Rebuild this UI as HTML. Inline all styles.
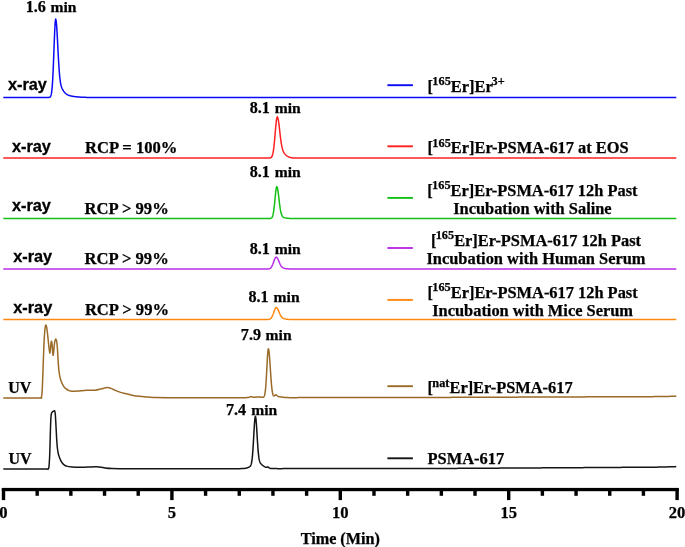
<!DOCTYPE html>
<html><head><meta charset="utf-8"><style>
html,body{margin:0;padding:0;background:#fff;}
body{width:685px;height:547px;overflow:hidden;}
svg{display:block;will-change:transform;}
.s{font-family:"Liberation Serif",serif;font-weight:bold;font-size:16.6px;fill:#000;stroke:#000;stroke-width:0.25px;}
.a{font-family:"Liberation Sans",sans-serif;font-weight:bold;font-size:16.6px;fill:#000;stroke:#000;stroke-width:0.3px;}
.p{font-size:16.1px;}
.l{font-size:16.4px;}
.m{font-size:15.6px;}
.a{font-size:16.3px;}
.sup{font-size:12.3px;}
</style></head><body>
<svg width="685" height="547" viewBox="0 0 685 547">
<path d="M3.30 97.50L5.30 97.50L7.30 97.50L9.30 97.50L11.30 97.50L13.30 97.50L15.30 97.50L17.30 97.50L19.30 97.50L21.30 97.50L23.30 97.50L25.30 97.50L25.70 97.50L26.20 97.50L26.70 97.50L27.20 97.50L27.30 97.50L27.70 97.50L28.20 97.50L28.70 97.50L29.20 97.50L29.30 97.50L29.70 97.50L30.20 97.50L30.70 97.50L31.20 97.50L31.30 97.50L31.70 97.50L32.20 97.50L32.70 97.50L33.20 97.50L33.30 97.50L33.70 97.50L34.20 97.50L34.70 97.50L35.20 97.50L35.30 97.50L35.70 97.50L36.20 97.50L36.70 97.50L37.20 97.50L37.30 97.50L37.70 97.50L38.20 97.50L38.70 97.50L39.20 97.50L39.30 97.50L39.70 97.50L40.20 97.50L40.70 97.50L41.20 97.50L41.30 97.50L41.70 97.50L42.20 97.50L42.70 97.50L43.20 97.50L43.30 97.50L43.70 97.50L44.20 97.50L44.70 97.50L45.20 97.50L45.30 97.50L45.70 97.50L46.20 97.50L46.70 97.50L47.20 97.50L47.30 97.50L47.70 97.50L48.20 97.49L48.70 97.47L49.20 97.42L49.30 97.40L49.70 97.28L50.20 96.94L50.70 96.18L51.20 94.63L51.30 94.18L51.70 91.75L52.20 86.89L52.70 79.46L53.20 69.24L53.30 66.89L53.70 56.70L54.20 43.20L54.70 30.91L55.20 22.24L55.30 21.12L55.70 19.10L56.20 21.07L56.70 26.65L57.20 34.90L57.30 36.75L57.70 44.54L58.20 54.31L58.70 63.22L59.20 70.67L59.30 71.96L59.70 76.47L60.20 80.76L60.70 83.82L61.20 85.99L61.30 86.34L61.70 87.56L62.20 88.75L62.70 89.72L63.20 90.54L63.30 90.69L63.70 91.26L64.20 91.91L64.70 92.49L65.20 93.01L65.30 93.11L65.70 93.48L66.20 93.89L66.70 94.25L67.20 94.57L67.30 94.63L67.70 94.85L68.20 95.09L68.70 95.30L69.20 95.49L69.30 95.52L69.70 95.65L70.20 95.79L70.70 95.92L71.20 96.03L71.30 96.05L71.70 96.13L72.20 96.22L72.70 96.31L73.20 96.39L73.30 96.40L73.70 96.46L74.20 96.53L74.70 96.59L75.20 96.66L75.30 96.67L75.70 96.71L76.20 96.77L76.70 96.82L77.20 96.87L77.30 96.88L77.70 96.92L78.20 96.96L78.70 97.00L79.20 97.04L79.30 97.05L79.70 97.08L80.20 97.11L80.70 97.14L81.20 97.17L81.30 97.18L81.70 97.20L82.20 97.23L82.70 97.25L83.20 97.27L83.30 97.28L83.70 97.29L84.20 97.31L84.70 97.33L85.20 97.35L85.30 97.35L85.70 97.36L86.20 97.38L86.70 97.39L87.20 97.40L87.30 97.40L87.70 97.41L88.20 97.42L88.70 97.43L89.20 97.44L89.30 97.44L89.70 97.44L90.20 97.45L90.70 97.46L91.20 97.46L91.30 97.46L91.70 97.47L92.20 97.47L92.70 97.47L93.20 97.48L93.30 97.48L93.70 97.48L94.20 97.48L94.70 97.48L95.20 97.49L95.30 97.49L95.70 97.49L97.30 97.49L99.30 97.50L101.30 97.50L103.30 97.50L105.30 97.50L107.30 97.50L109.30 97.50L111.30 97.50L113.30 97.50L115.30 97.50L117.30 97.50L119.30 97.50L121.30 97.50L123.30 97.50L125.30 97.50L127.30 97.50L129.30 97.50L131.30 97.50L133.30 97.50L135.30 97.50L137.30 97.50L139.30 97.50L141.30 97.50L143.30 97.50L145.30 97.50L147.30 97.50L149.30 97.50L151.30 97.50L153.30 97.50L155.30 97.50L157.30 97.50L159.30 97.50L161.30 97.50L163.30 97.50L165.30 97.50L167.30 97.50L169.30 97.50L171.30 97.50L173.30 97.50L175.30 97.50L177.30 97.50L179.30 97.50L181.30 97.50L183.30 97.50L185.30 97.50L187.30 97.50L189.30 97.50L191.30 97.50L193.30 97.50L195.30 97.50L197.30 97.50L199.30 97.50L201.30 97.50L203.30 97.50L205.30 97.50L207.30 97.50L209.30 97.50L211.30 97.50L213.30 97.50L215.30 97.50L217.30 97.50L219.30 97.50L221.30 97.50L223.30 97.50L225.30 97.50L227.30 97.50L229.30 97.50L231.30 97.50L233.30 97.50L235.30 97.50L237.30 97.50L239.30 97.50L241.30 97.50L243.30 97.50L245.30 97.50L247.30 97.50L249.30 97.50L251.30 97.50L253.30 97.50L255.30 97.50L257.30 97.50L259.30 97.50L261.30 97.50L263.30 97.50L265.30 97.50L267.30 97.50L269.30 97.50L271.30 97.50L273.30 97.50L275.30 97.50L277.30 97.50L279.30 97.50L281.30 97.50L283.30 97.50L285.30 97.50L287.30 97.50L289.30 97.50L291.30 97.50L293.30 97.50L295.30 97.50L297.30 97.50L299.30 97.50L301.30 97.50L303.30 97.50L305.30 97.50L307.30 97.50L309.30 97.50L311.30 97.50L313.30 97.50L315.30 97.50L317.30 97.50L319.30 97.50L321.30 97.50L323.30 97.50L325.30 97.50L327.30 97.50L329.30 97.50L331.30 97.50L333.30 97.50L335.30 97.50L337.30 97.50L339.30 97.50L341.30 97.50L343.30 97.50L345.30 97.50L347.30 97.50L349.30 97.50L351.30 97.50L353.30 97.50L355.30 97.50L357.30 97.50L359.30 97.50L361.30 97.50L363.30 97.50L365.30 97.50L367.30 97.50L369.30 97.50L371.30 97.50L373.30 97.50L375.30 97.50L377.30 97.50L379.30 97.50L381.30 97.50L383.30 97.50L385.30 97.50L387.30 97.50L389.30 97.50L391.30 97.50L393.30 97.50L395.30 97.50L397.30 97.50L399.30 97.50L401.30 97.50L403.30 97.50L405.30 97.50L407.30 97.50L409.30 97.50L411.30 97.50L413.30 97.50L415.30 97.50L417.30 97.50L419.30 97.50L421.30 97.50L423.30 97.50L425.30 97.50L427.30 97.50L429.30 97.50L431.30 97.50L433.30 97.50L435.30 97.50L437.30 97.50L439.30 97.50L441.30 97.50L443.30 97.50L445.30 97.50L447.30 97.50L449.30 97.50L451.30 97.50L453.30 97.50L455.30 97.50L457.30 97.50L459.30 97.50L461.30 97.50L463.30 97.50L465.30 97.50L467.30 97.50L469.30 97.50L471.30 97.50L473.30 97.50L475.30 97.50L477.30 97.50L479.30 97.50L481.30 97.50L483.30 97.50L485.30 97.50L487.30 97.50L489.30 97.50L491.30 97.50L493.30 97.50L495.30 97.50L497.30 97.50L499.30 97.50L501.30 97.50L503.30 97.50L505.30 97.50L507.30 97.50L509.30 97.50L511.30 97.50L513.30 97.50L515.30 97.50L517.30 97.50L519.30 97.50L521.30 97.50L523.30 97.50L525.30 97.50L527.30 97.50L529.30 97.50L531.30 97.50L533.30 97.50L535.30 97.50L537.30 97.50L539.30 97.50L541.30 97.50L543.30 97.50L545.30 97.50L547.30 97.50L549.30 97.50L551.30 97.50L553.30 97.50L555.30 97.50L557.30 97.50L559.30 97.50L561.30 97.50L563.30 97.50L565.30 97.50L567.30 97.50L569.30 97.50L571.30 97.50L573.30 97.50L575.30 97.50L577.30 97.50L579.30 97.50L581.30 97.50L583.30 97.50L585.30 97.50L587.30 97.50L589.30 97.50L591.30 97.50L593.30 97.50L595.30 97.50L597.30 97.50L599.30 97.50L601.30 97.50L603.30 97.50L605.30 97.50L607.30 97.50L609.30 97.50L611.30 97.50L613.30 97.50L615.30 97.50L617.30 97.50L619.30 97.50L621.30 97.50L623.30 97.50L625.30 97.50L627.30 97.50L629.30 97.50L631.30 97.50L633.30 97.50L635.30 97.50L637.30 97.50L639.30 97.50L641.30 97.50L643.30 97.50L645.30 97.50L647.30 97.50L649.30 97.50L651.30 97.50L653.30 97.50L655.30 97.50L657.30 97.50L659.30 97.50L661.30 97.50L663.30 97.50L665.30 97.50L667.30 97.50L669.30 97.50L671.30 97.50L673.30 97.50L675.30 97.50L676.30 97.50" fill="none" stroke="#0a0af5" stroke-width="1.50" stroke-linejoin="round" stroke-linecap="butt"/>
<path d="M3.30 158.10L5.30 158.10L7.30 158.10L9.30 158.10L11.30 158.10L13.30 158.10L15.30 158.10L17.30 158.10L19.30 158.10L21.30 158.10L23.30 158.10L25.30 158.10L27.30 158.10L29.30 158.10L31.30 158.10L33.30 158.10L35.30 158.10L37.30 158.10L39.30 158.10L41.30 158.10L43.30 158.10L45.30 158.10L47.30 158.10L49.30 158.10L51.30 158.10L53.30 158.10L55.30 158.10L57.30 158.10L59.30 158.10L61.30 158.10L63.30 158.10L65.30 158.10L67.30 158.10L69.30 158.10L71.30 158.10L73.30 158.10L75.30 158.10L77.30 158.10L79.30 158.10L81.30 158.10L83.30 158.10L85.30 158.10L87.30 158.10L89.30 158.10L91.30 158.10L93.30 158.10L95.30 158.10L97.30 158.10L99.30 158.10L101.30 158.10L103.30 158.10L105.30 158.10L107.30 158.10L109.30 158.10L111.30 158.10L113.30 158.10L115.30 158.10L117.30 158.10L119.30 158.10L121.30 158.10L123.30 158.10L125.30 158.10L127.30 158.10L129.30 158.10L131.30 158.10L133.30 158.10L135.30 158.10L137.30 158.10L139.30 158.10L141.30 158.10L143.30 158.10L145.30 158.10L147.30 158.10L149.30 158.10L151.30 158.10L153.30 158.10L155.30 158.10L157.30 158.10L159.30 158.10L161.30 158.10L163.30 158.10L165.30 158.10L167.30 158.10L169.30 158.10L171.30 158.10L173.30 158.10L175.30 158.10L177.30 158.10L179.30 158.10L181.30 158.10L183.30 158.10L185.30 158.10L187.30 158.10L189.30 158.10L191.30 158.10L193.30 158.10L195.30 158.10L197.30 158.10L199.30 158.10L201.30 158.10L203.30 158.10L205.30 158.10L207.30 158.10L209.30 158.10L211.30 158.10L213.30 158.10L215.30 158.10L217.30 158.10L219.30 158.10L221.30 158.10L223.30 158.10L225.30 158.10L227.30 158.10L229.30 158.10L231.30 158.10L233.30 158.10L235.30 158.10L237.30 158.10L239.30 158.10L241.30 158.10L243.30 158.10L245.30 158.10L247.30 158.10L247.80 158.10L248.30 158.10L248.80 158.10L249.30 158.10L249.80 158.10L250.30 158.10L250.80 158.10L251.30 158.10L251.80 158.10L252.30 158.10L252.80 158.10L253.30 158.10L253.80 158.10L254.30 158.10L254.80 158.10L255.30 158.10L255.80 158.10L256.30 158.10L256.80 158.10L257.30 158.10L257.80 158.10L258.30 158.10L258.80 158.10L259.30 158.10L259.80 158.10L260.30 158.10L260.80 158.10L261.30 158.10L261.80 158.10L262.30 158.10L262.80 158.10L263.30 158.10L263.80 158.10L264.30 158.10L264.80 158.10L265.30 158.10L265.80 158.10L266.30 158.10L266.80 158.10L267.30 158.10L267.80 158.10L268.30 158.10L268.80 158.09L269.30 158.07L269.80 158.03L270.30 157.94L270.80 157.76L271.30 157.40L271.80 156.76L272.30 155.67L272.80 153.94L273.30 151.37L273.80 147.80L274.30 143.21L274.80 137.77L275.30 131.86L275.80 126.10L276.30 121.23L276.80 117.95L277.30 116.80L277.80 117.57L278.30 119.76L278.80 123.11L279.30 127.21L279.80 131.63L280.30 135.97L280.80 139.94L281.30 143.35L281.80 146.14L282.30 148.35L282.80 150.06L283.30 151.37L283.80 152.39L284.30 153.20L284.80 153.87L285.30 154.44L285.80 154.94L286.30 155.38L286.80 155.77L287.30 156.12L287.80 156.43L288.30 156.70L288.80 156.94L289.30 157.14L289.80 157.32L290.30 157.47L290.80 157.59L291.30 157.70L291.80 157.78L292.30 157.85L292.80 157.91L293.30 157.95L293.80 157.99L294.30 158.01L294.80 158.03L295.30 158.05L295.80 158.06L296.30 158.07L296.80 158.08L297.30 158.09L297.80 158.09L298.30 158.09L298.80 158.10L299.30 158.10L299.80 158.10L300.30 158.10L300.80 158.10L301.30 158.10L301.80 158.10L302.30 158.10L302.80 158.10L303.30 158.10L303.80 158.10L304.30 158.10L304.80 158.10L305.30 158.10L305.80 158.10L306.30 158.10L306.80 158.10L307.30 158.10L307.80 158.10L308.30 158.10L308.80 158.10L309.30 158.10L309.80 158.10L310.30 158.10L310.80 158.10L311.30 158.10L311.80 158.10L312.30 158.10L312.80 158.10L313.30 158.10L313.80 158.10L314.30 158.10L314.80 158.10L315.30 158.10L315.80 158.10L316.30 158.10L316.80 158.10L317.30 158.10L319.30 158.10L321.30 158.10L323.30 158.10L325.30 158.10L327.30 158.10L329.30 158.10L331.30 158.10L333.30 158.10L335.30 158.10L337.30 158.10L339.30 158.10L341.30 158.10L343.30 158.10L345.30 158.10L347.30 158.10L349.30 158.10L351.30 158.10L353.30 158.10L355.30 158.10L357.30 158.10L359.30 158.10L361.30 158.10L363.30 158.10L365.30 158.10L367.30 158.10L369.30 158.10L371.30 158.10L373.30 158.10L375.30 158.10L377.30 158.10L379.30 158.10L381.30 158.10L383.30 158.10L385.30 158.10L387.30 158.10L389.30 158.10L391.30 158.10L393.30 158.10L395.30 158.10L397.30 158.10L399.30 158.10L401.30 158.10L403.30 158.10L405.30 158.10L407.30 158.10L409.30 158.10L411.30 158.10L413.30 158.10L415.30 158.10L417.30 158.10L419.30 158.10L421.30 158.10L423.30 158.10L425.30 158.10L427.30 158.10L429.30 158.10L431.30 158.10L433.30 158.10L435.30 158.10L437.30 158.10L439.30 158.10L441.30 158.10L443.30 158.10L445.30 158.10L447.30 158.10L449.30 158.10L451.30 158.10L453.30 158.10L455.30 158.10L457.30 158.10L459.30 158.10L461.30 158.10L463.30 158.10L465.30 158.10L467.30 158.10L469.30 158.10L471.30 158.10L473.30 158.10L475.30 158.10L477.30 158.10L479.30 158.10L481.30 158.10L483.30 158.10L485.30 158.10L487.30 158.10L489.30 158.10L491.30 158.10L493.30 158.10L495.30 158.10L497.30 158.10L499.30 158.10L501.30 158.10L503.30 158.10L505.30 158.10L507.30 158.10L509.30 158.10L511.30 158.10L513.30 158.10L515.30 158.10L517.30 158.10L519.30 158.10L521.30 158.10L523.30 158.10L525.30 158.10L527.30 158.10L529.30 158.10L531.30 158.10L533.30 158.10L535.30 158.10L537.30 158.10L539.30 158.10L541.30 158.10L543.30 158.10L545.30 158.10L547.30 158.10L549.30 158.10L551.30 158.10L553.30 158.10L555.30 158.10L557.30 158.10L559.30 158.10L561.30 158.10L563.30 158.10L565.30 158.10L567.30 158.10L569.30 158.10L571.30 158.10L573.30 158.10L575.30 158.10L577.30 158.10L579.30 158.10L581.30 158.10L583.30 158.10L585.30 158.10L587.30 158.10L589.30 158.10L591.30 158.10L593.30 158.10L595.30 158.10L597.30 158.10L599.30 158.10L601.30 158.10L603.30 158.10L605.30 158.10L607.30 158.10L609.30 158.10L611.30 158.10L613.30 158.10L615.30 158.10L617.30 158.10L619.30 158.10L621.30 158.10L623.30 158.10L625.30 158.10L627.30 158.10L629.30 158.10L631.30 158.10L633.30 158.10L635.30 158.10L637.30 158.10L639.30 158.10L641.30 158.10L643.30 158.10L645.30 158.10L647.30 158.10L649.30 158.10L651.30 158.10L653.30 158.10L655.30 158.10L657.30 158.10L659.30 158.10L661.30 158.10L663.30 158.10L665.30 158.10L667.30 158.10L669.30 158.10L671.30 158.10L673.30 158.10L675.30 158.10L676.30 158.10" fill="none" stroke="#ff2020" stroke-width="1.50" stroke-linejoin="round" stroke-linecap="butt"/>
<path d="M3.30 218.50L5.30 218.50L7.30 218.50L9.30 218.50L11.30 218.50L13.30 218.50L15.30 218.50L17.30 218.50L19.30 218.50L21.30 218.50L23.30 218.50L25.30 218.50L27.30 218.50L29.30 218.50L31.30 218.50L33.30 218.50L35.30 218.50L37.30 218.50L39.30 218.50L41.30 218.50L43.30 218.50L45.30 218.50L47.30 218.50L49.30 218.50L51.30 218.50L53.30 218.50L55.30 218.50L57.30 218.50L59.30 218.50L61.30 218.50L63.30 218.50L65.30 218.50L67.30 218.50L69.30 218.50L71.30 218.50L73.30 218.50L75.30 218.50L77.30 218.50L79.30 218.50L81.30 218.50L83.30 218.50L85.30 218.50L87.30 218.50L89.30 218.50L91.30 218.50L93.30 218.50L95.30 218.50L97.30 218.50L99.30 218.50L101.30 218.50L103.30 218.50L105.30 218.50L107.30 218.50L109.30 218.50L111.30 218.50L113.30 218.50L115.30 218.50L117.30 218.50L119.30 218.50L121.30 218.50L123.30 218.50L125.30 218.50L127.30 218.50L129.30 218.50L131.30 218.50L133.30 218.50L135.30 218.50L137.30 218.50L139.30 218.50L141.30 218.50L143.30 218.50L145.30 218.50L147.30 218.50L149.30 218.50L151.30 218.50L153.30 218.50L155.30 218.50L157.30 218.50L159.30 218.50L161.30 218.50L163.30 218.50L165.30 218.50L167.30 218.50L169.30 218.50L171.30 218.50L173.30 218.50L175.30 218.50L177.30 218.50L179.30 218.50L181.30 218.50L183.30 218.50L185.30 218.50L187.30 218.50L189.30 218.50L191.30 218.50L193.30 218.50L195.30 218.50L197.30 218.50L199.30 218.50L201.30 218.50L203.30 218.50L205.30 218.50L207.30 218.50L209.30 218.50L211.30 218.50L213.30 218.50L215.30 218.50L217.30 218.50L219.30 218.50L221.30 218.50L223.30 218.50L225.30 218.50L227.30 218.50L229.30 218.50L231.30 218.50L233.30 218.50L235.30 218.50L237.30 218.50L239.30 218.50L241.30 218.50L243.30 218.50L245.30 218.50L246.80 218.50L247.30 218.50L247.80 218.50L248.30 218.50L248.80 218.50L249.30 218.50L249.80 218.50L250.30 218.50L250.80 218.50L251.30 218.50L251.80 218.50L252.30 218.50L252.80 218.50L253.30 218.50L253.80 218.50L254.30 218.50L254.80 218.50L255.30 218.50L255.80 218.50L256.30 218.50L256.80 218.50L257.30 218.50L257.80 218.50L258.30 218.50L258.80 218.50L259.30 218.50L259.80 218.50L260.30 218.50L260.80 218.50L261.30 218.50L261.80 218.50L262.30 218.50L262.80 218.50L263.30 218.50L263.80 218.50L264.30 218.50L264.80 218.50L265.30 218.50L265.80 218.50L266.30 218.50L266.80 218.50L267.30 218.50L267.80 218.50L268.30 218.50L268.80 218.50L269.30 218.49L269.80 218.48L270.30 218.45L270.80 218.36L271.30 218.17L271.80 217.77L272.30 217.00L272.80 215.65L273.30 213.48L273.80 210.30L274.30 206.08L274.80 201.06L275.30 195.79L275.80 191.07L276.30 187.78L276.80 186.60L277.30 187.43L277.80 189.80L278.30 193.32L278.80 197.50L279.30 201.80L279.80 205.79L280.30 209.18L280.80 211.86L281.30 213.84L281.80 215.23L282.30 216.16L282.80 216.76L283.30 217.16L283.80 217.43L284.30 217.62L284.80 217.77L285.30 217.89L285.80 217.99L286.30 218.08L286.80 218.15L287.30 218.22L287.80 218.27L288.30 218.32L288.80 218.36L289.30 218.39L289.80 218.41L290.30 218.43L290.80 218.45L291.30 218.46L291.80 218.47L292.30 218.48L292.80 218.48L293.30 218.49L293.80 218.49L294.30 218.49L294.80 218.50L295.30 218.50L295.80 218.50L296.30 218.50L296.80 218.50L297.30 218.50L297.80 218.50L298.30 218.50L298.80 218.50L299.30 218.50L299.80 218.50L300.30 218.50L300.80 218.50L301.30 218.50L301.80 218.50L302.30 218.50L302.80 218.50L303.30 218.50L303.80 218.50L304.30 218.50L304.80 218.50L305.30 218.50L305.80 218.50L306.30 218.50L306.80 218.50L307.30 218.50L307.80 218.50L308.30 218.50L308.80 218.50L309.30 218.50L309.80 218.50L310.30 218.50L310.80 218.50L311.30 218.50L311.80 218.50L312.30 218.50L312.80 218.50L313.30 218.50L313.80 218.50L314.30 218.50L314.80 218.50L315.30 218.50L315.80 218.50L316.30 218.50L316.80 218.50L317.30 218.50L319.30 218.50L321.30 218.50L323.30 218.50L325.30 218.50L327.30 218.50L329.30 218.50L331.30 218.50L333.30 218.50L335.30 218.50L337.30 218.50L339.30 218.50L341.30 218.50L343.30 218.50L345.30 218.50L347.30 218.50L349.30 218.50L351.30 218.50L353.30 218.50L355.30 218.50L357.30 218.50L359.30 218.50L361.30 218.50L363.30 218.50L365.30 218.50L367.30 218.50L369.30 218.50L371.30 218.50L373.30 218.50L375.30 218.50L377.30 218.50L379.30 218.50L381.30 218.50L383.30 218.50L385.30 218.50L387.30 218.50L389.30 218.50L391.30 218.50L393.30 218.50L395.30 218.50L397.30 218.50L399.30 218.50L401.30 218.50L403.30 218.50L405.30 218.50L407.30 218.50L409.30 218.50L411.30 218.50L413.30 218.50L415.30 218.50L417.30 218.50L419.30 218.50L421.30 218.50L423.30 218.50L425.30 218.50L427.30 218.50L429.30 218.50L431.30 218.50L433.30 218.50L435.30 218.50L437.30 218.50L439.30 218.50L441.30 218.50L443.30 218.50L445.30 218.50L447.30 218.50L449.30 218.50L451.30 218.50L453.30 218.50L455.30 218.50L457.30 218.50L459.30 218.50L461.30 218.50L463.30 218.50L465.30 218.50L467.30 218.50L469.30 218.50L471.30 218.50L473.30 218.50L475.30 218.50L477.30 218.50L479.30 218.50L481.30 218.50L483.30 218.50L485.30 218.50L487.30 218.50L489.30 218.50L491.30 218.50L493.30 218.50L495.30 218.50L497.30 218.50L499.30 218.50L501.30 218.50L503.30 218.50L505.30 218.50L507.30 218.50L509.30 218.50L511.30 218.50L513.30 218.50L515.30 218.50L517.30 218.50L519.30 218.50L521.30 218.50L523.30 218.50L525.30 218.50L527.30 218.50L529.30 218.50L531.30 218.50L533.30 218.50L535.30 218.50L537.30 218.50L539.30 218.50L541.30 218.50L543.30 218.50L545.30 218.50L547.30 218.50L549.30 218.50L551.30 218.50L553.30 218.50L555.30 218.50L557.30 218.50L559.30 218.50L561.30 218.50L563.30 218.50L565.30 218.50L567.30 218.50L569.30 218.50L571.30 218.50L573.30 218.50L575.30 218.50L577.30 218.50L579.30 218.50L581.30 218.50L583.30 218.50L585.30 218.50L587.30 218.50L589.30 218.50L591.30 218.50L593.30 218.50L595.30 218.50L597.30 218.50L599.30 218.50L601.30 218.50L603.30 218.50L605.30 218.50L607.30 218.50L609.30 218.50L611.30 218.50L613.30 218.50L615.30 218.50L617.30 218.50L619.30 218.50L621.30 218.50L623.30 218.50L625.30 218.50L627.30 218.50L629.30 218.50L631.30 218.50L633.30 218.50L635.30 218.50L637.30 218.50L639.30 218.50L641.30 218.50L643.30 218.50L645.30 218.50L647.30 218.50L649.30 218.50L651.30 218.50L653.30 218.50L655.30 218.50L657.30 218.50L659.30 218.50L661.30 218.50L663.30 218.50L665.30 218.50L667.30 218.50L669.30 218.50L671.30 218.50L673.30 218.50L675.30 218.50L676.30 218.50" fill="none" stroke="#14c014" stroke-width="1.50" stroke-linejoin="round" stroke-linecap="butt"/>
<path d="M3.30 269.00L5.30 269.00L7.30 269.00L9.30 269.00L11.30 269.00L13.30 269.00L15.30 269.00L17.30 269.00L19.30 269.00L21.30 269.00L23.30 269.00L25.30 269.00L27.30 269.00L29.30 269.00L31.30 269.00L33.30 269.00L35.30 269.00L37.30 269.00L39.30 269.00L41.30 269.00L43.30 269.00L45.30 269.00L47.30 269.00L49.30 269.00L51.30 269.00L53.30 269.00L55.30 269.00L57.30 269.00L59.30 269.00L61.30 269.00L63.30 269.00L65.30 269.00L67.30 269.00L69.30 269.00L71.30 269.00L73.30 269.00L75.30 269.00L77.30 269.00L79.30 269.00L81.30 269.00L83.30 269.00L85.30 269.00L87.30 269.00L89.30 269.00L91.30 269.00L93.30 269.00L95.30 269.00L97.30 269.00L99.30 269.00L101.30 269.00L103.30 269.00L105.30 269.00L107.30 269.00L109.30 269.00L111.30 269.00L113.30 269.00L115.30 269.00L117.30 269.00L119.30 269.00L121.30 269.00L123.30 269.00L125.30 269.00L127.30 269.00L129.30 269.00L131.30 269.00L133.30 269.00L135.30 269.00L137.30 269.00L139.30 269.00L141.30 269.00L143.30 269.00L145.30 269.00L147.30 269.00L149.30 269.00L151.30 269.00L153.30 269.00L155.30 269.00L157.30 269.00L159.30 269.00L161.30 269.00L163.30 269.00L165.30 269.00L167.30 269.00L169.30 269.00L171.30 269.00L173.30 269.00L175.30 269.00L177.30 269.00L179.30 269.00L181.30 269.00L183.30 269.00L185.30 269.00L187.30 269.00L189.30 269.00L191.30 269.00L193.30 269.00L195.30 269.00L197.30 269.00L199.30 269.00L201.30 269.00L203.30 269.00L205.30 269.00L207.30 269.00L209.30 269.00L211.30 269.00L213.30 269.00L215.30 269.00L217.30 269.00L219.30 269.00L221.30 269.00L223.30 269.00L225.30 269.00L227.30 269.00L229.30 269.00L231.30 269.00L233.30 269.00L235.30 269.00L237.30 269.00L239.30 269.00L241.30 269.00L243.30 269.00L245.30 269.00L246.20 269.00L246.70 269.00L247.20 269.00L247.30 269.00L247.70 269.00L248.20 269.00L248.70 269.00L249.20 269.00L249.30 269.00L249.70 269.00L250.20 269.00L250.70 269.00L251.20 269.00L251.30 269.00L251.70 269.00L252.20 269.00L252.70 269.00L253.20 269.00L253.30 269.00L253.70 269.00L254.20 269.00L254.70 269.00L255.20 269.00L255.30 269.00L255.70 269.00L256.20 269.00L256.70 269.00L257.20 269.00L257.30 269.00L257.70 269.00L258.20 269.00L258.70 269.00L259.20 269.00L259.30 269.00L259.70 269.00L260.20 269.00L260.70 269.00L261.20 269.00L261.30 269.00L261.70 269.00L262.20 269.00L262.70 269.00L263.20 269.00L263.30 269.00L263.70 269.00L264.20 269.00L264.70 269.00L265.20 269.00L265.30 269.00L265.70 269.00L266.20 269.00L266.70 268.99L267.20 268.98L267.30 268.98L267.70 268.96L268.20 268.93L268.70 268.87L269.20 268.76L269.30 268.74L269.70 268.59L270.20 268.33L270.70 267.94L271.20 267.39L271.30 267.26L271.70 266.65L272.20 265.69L272.70 264.53L273.20 263.21L273.30 262.93L273.70 261.78L274.20 260.36L274.70 259.06L275.20 258.01L275.30 257.85L275.70 257.34L276.20 257.10L276.70 257.29L277.20 257.83L277.30 257.97L277.70 258.66L278.20 259.72L278.70 260.90L279.20 262.12L279.30 262.36L279.70 263.29L280.20 264.36L280.70 265.28L281.20 266.06L281.30 266.19L281.70 266.68L282.20 267.18L282.70 267.56L283.20 267.85L283.30 267.90L283.70 268.08L284.20 268.25L284.70 268.39L285.20 268.51L285.30 268.52L285.70 268.60L286.20 268.67L286.70 268.73L287.20 268.79L287.30 268.80L287.70 268.83L288.20 268.87L288.70 268.90L289.20 268.92L289.30 268.92L289.70 268.94L290.20 268.95L290.70 268.96L291.20 268.97L291.30 268.98L291.70 268.98L292.20 268.99L292.70 268.99L293.20 268.99L293.30 268.99L293.70 268.99L294.20 269.00L294.70 269.00L295.20 269.00L295.30 269.00L295.70 269.00L296.20 269.00L296.70 269.00L297.20 269.00L297.30 269.00L297.70 269.00L298.20 269.00L298.70 269.00L299.20 269.00L299.30 269.00L299.70 269.00L300.20 269.00L300.70 269.00L301.20 269.00L301.30 269.00L301.70 269.00L302.20 269.00L302.70 269.00L303.20 269.00L303.30 269.00L303.70 269.00L304.20 269.00L304.70 269.00L305.20 269.00L305.30 269.00L305.70 269.00L306.20 269.00L306.70 269.00L307.20 269.00L307.30 269.00L307.70 269.00L308.20 269.00L308.70 269.00L309.20 269.00L309.30 269.00L309.70 269.00L310.20 269.00L310.70 269.00L311.20 269.00L311.30 269.00L311.70 269.00L312.20 269.00L312.70 269.00L313.20 269.00L313.30 269.00L313.70 269.00L314.20 269.00L314.70 269.00L315.20 269.00L315.30 269.00L315.70 269.00L316.20 269.00L317.30 269.00L319.30 269.00L321.30 269.00L323.30 269.00L325.30 269.00L327.30 269.00L329.30 269.00L331.30 269.00L333.30 269.00L335.30 269.00L337.30 269.00L339.30 269.00L341.30 269.00L343.30 269.00L345.30 269.00L347.30 269.00L349.30 269.00L351.30 269.00L353.30 269.00L355.30 269.00L357.30 269.00L359.30 269.00L361.30 269.00L363.30 269.00L365.30 269.00L367.30 269.00L369.30 269.00L371.30 269.00L373.30 269.00L375.30 269.00L377.30 269.00L379.30 269.00L381.30 269.00L383.30 269.00L385.30 269.00L387.30 269.00L389.30 269.00L391.30 269.00L393.30 269.00L395.30 269.00L397.30 269.00L399.30 269.00L401.30 269.00L403.30 269.00L405.30 269.00L407.30 269.00L409.30 269.00L411.30 269.00L413.30 269.00L415.30 269.00L417.30 269.00L419.30 269.00L421.30 269.00L423.30 269.00L425.30 269.00L427.30 269.00L429.30 269.00L431.30 269.00L433.30 269.00L435.30 269.00L437.30 269.00L439.30 269.00L441.30 269.00L443.30 269.00L445.30 269.00L447.30 269.00L449.30 269.00L451.30 269.00L453.30 269.00L455.30 269.00L457.30 269.00L459.30 269.00L461.30 269.00L463.30 269.00L465.30 269.00L467.30 269.00L469.30 269.00L471.30 269.00L473.30 269.00L475.30 269.00L477.30 269.00L479.30 269.00L481.30 269.00L483.30 269.00L485.30 269.00L487.30 269.00L489.30 269.00L491.30 269.00L493.30 269.00L495.30 269.00L497.30 269.00L499.30 269.00L501.30 269.00L503.30 269.00L505.30 269.00L507.30 269.00L509.30 269.00L511.30 269.00L513.30 269.00L515.30 269.00L517.30 269.00L519.30 269.00L521.30 269.00L523.30 269.00L525.30 269.00L527.30 269.00L529.30 269.00L531.30 269.00L533.30 269.00L535.30 269.00L537.30 269.00L539.30 269.00L541.30 269.00L543.30 269.00L545.30 269.00L547.30 269.00L549.30 269.00L551.30 269.00L553.30 269.00L555.30 269.00L557.30 269.00L559.30 269.00L561.30 269.00L563.30 269.00L565.30 269.00L567.30 269.00L569.30 269.00L571.30 269.00L573.30 269.00L575.30 269.00L577.30 269.00L579.30 269.00L581.30 269.00L583.30 269.00L585.30 269.00L587.30 269.00L589.30 269.00L591.30 269.00L593.30 269.00L595.30 269.00L597.30 269.00L599.30 269.00L601.30 269.00L603.30 269.00L605.30 269.00L607.30 269.00L609.30 269.00L611.30 269.00L613.30 269.00L615.30 269.00L617.30 269.00L619.30 269.00L621.30 269.00L623.30 269.00L625.30 269.00L627.30 269.00L629.30 269.00L631.30 269.00L633.30 269.00L635.30 269.00L637.30 269.00L639.30 269.00L641.30 269.00L643.30 269.00L645.30 269.00L647.30 269.00L649.30 269.00L651.30 269.00L653.30 269.00L655.30 269.00L657.30 269.00L659.30 269.00L661.30 269.00L663.30 269.00L665.30 269.00L667.30 269.00L669.30 269.00L671.30 269.00L673.30 269.00L675.30 269.00L676.30 269.00" fill="none" stroke="#b82ee8" stroke-width="1.50" stroke-linejoin="round" stroke-linecap="butt"/>
<path d="M3.30 319.50L5.30 319.50L7.30 319.50L9.30 319.50L11.30 319.50L13.30 319.50L15.30 319.50L17.30 319.50L19.30 319.50L21.30 319.50L23.30 319.50L25.30 319.50L27.30 319.50L29.30 319.50L31.30 319.50L33.30 319.50L35.30 319.50L37.30 319.50L39.30 319.50L41.30 319.50L43.30 319.50L45.30 319.50L47.30 319.50L49.30 319.50L51.30 319.50L53.30 319.50L55.30 319.50L57.30 319.50L59.30 319.50L61.30 319.50L63.30 319.50L65.30 319.50L67.30 319.50L69.30 319.50L71.30 319.50L73.30 319.50L75.30 319.50L77.30 319.50L79.30 319.50L81.30 319.50L83.30 319.50L85.30 319.50L87.30 319.50L89.30 319.50L91.30 319.50L93.30 319.50L95.30 319.50L97.30 319.50L99.30 319.50L101.30 319.50L103.30 319.50L105.30 319.50L107.30 319.50L109.30 319.50L111.30 319.50L113.30 319.50L115.30 319.50L117.30 319.50L119.30 319.50L121.30 319.50L123.30 319.50L125.30 319.50L127.30 319.50L129.30 319.50L131.30 319.50L133.30 319.50L135.30 319.50L137.30 319.50L139.30 319.50L141.30 319.50L143.30 319.50L145.30 319.50L147.30 319.50L149.30 319.50L151.30 319.50L153.30 319.50L155.30 319.50L157.30 319.50L159.30 319.50L161.30 319.50L163.30 319.50L165.30 319.50L167.30 319.50L169.30 319.50L171.30 319.50L173.30 319.50L175.30 319.50L177.30 319.50L179.30 319.50L181.30 319.50L183.30 319.50L185.30 319.50L187.30 319.50L189.30 319.50L191.30 319.50L193.30 319.50L195.30 319.50L197.30 319.50L199.30 319.50L201.30 319.50L203.30 319.50L205.30 319.50L207.30 319.50L209.30 319.50L211.30 319.50L213.30 319.50L215.30 319.50L217.30 319.50L219.30 319.50L221.30 319.50L223.30 319.50L225.30 319.50L227.30 319.50L229.30 319.50L231.30 319.50L233.30 319.50L235.30 319.50L237.30 319.50L239.30 319.50L241.30 319.50L243.30 319.50L245.30 319.50L246.30 319.50L246.80 319.50L247.30 319.50L247.80 319.50L248.30 319.50L248.80 319.50L249.30 319.50L249.80 319.50L250.30 319.50L250.80 319.50L251.30 319.50L251.80 319.50L252.30 319.50L252.80 319.50L253.30 319.50L253.80 319.50L254.30 319.50L254.80 319.50L255.30 319.50L255.80 319.50L256.30 319.50L256.80 319.50L257.30 319.50L257.80 319.50L258.30 319.50L258.80 319.50L259.30 319.50L259.80 319.50L260.30 319.50L260.80 319.50L261.30 319.50L261.80 319.50L262.30 319.50L262.80 319.50L263.30 319.50L263.80 319.50L264.30 319.50L264.80 319.50L265.30 319.50L265.80 319.50L266.30 319.50L266.80 319.49L267.30 319.48L267.80 319.46L268.30 319.43L268.80 319.37L269.30 319.26L269.80 319.09L270.30 318.83L270.80 318.43L271.30 317.88L271.80 317.13L272.30 316.16L272.80 315.00L273.30 313.66L273.80 312.22L274.30 310.79L274.80 309.48L275.30 308.42L275.80 307.74L276.30 307.50L276.80 307.69L277.30 308.23L277.80 309.08L278.30 310.14L278.80 311.34L279.30 312.56L279.80 313.74L280.30 314.82L280.80 315.75L281.30 316.53L281.80 317.16L282.30 317.66L282.80 318.05L283.30 318.34L283.80 318.57L284.30 318.75L284.80 318.89L285.30 319.00L285.80 319.09L286.30 319.17L286.80 319.23L287.30 319.29L287.80 319.33L288.30 319.37L288.80 319.39L289.30 319.42L289.80 319.44L290.30 319.45L290.80 319.46L291.30 319.47L291.80 319.48L292.30 319.49L292.80 319.49L293.30 319.49L293.80 319.49L294.30 319.50L294.80 319.50L295.30 319.50L295.80 319.50L296.30 319.50L296.80 319.50L297.30 319.50L297.80 319.50L298.30 319.50L298.80 319.50L299.30 319.50L299.80 319.50L300.30 319.50L300.80 319.50L301.30 319.50L301.80 319.50L302.30 319.50L302.80 319.50L303.30 319.50L303.80 319.50L304.30 319.50L304.80 319.50L305.30 319.50L305.80 319.50L306.30 319.50L306.80 319.50L307.30 319.50L307.80 319.50L308.30 319.50L308.80 319.50L309.30 319.50L309.80 319.50L310.30 319.50L310.80 319.50L311.30 319.50L311.80 319.50L312.30 319.50L312.80 319.50L313.30 319.50L313.80 319.50L314.30 319.50L314.80 319.50L315.30 319.50L315.80 319.50L316.30 319.50L317.30 319.50L319.30 319.50L321.30 319.50L323.30 319.50L325.30 319.50L327.30 319.50L329.30 319.50L331.30 319.50L333.30 319.50L335.30 319.50L337.30 319.50L339.30 319.50L341.30 319.50L343.30 319.50L345.30 319.50L347.30 319.50L349.30 319.50L351.30 319.50L353.30 319.50L355.30 319.50L357.30 319.50L359.30 319.50L361.30 319.50L363.30 319.50L365.30 319.50L367.30 319.50L369.30 319.50L371.30 319.50L373.30 319.50L375.30 319.50L377.30 319.50L379.30 319.50L381.30 319.50L383.30 319.50L385.30 319.50L387.30 319.50L389.30 319.50L391.30 319.50L393.30 319.50L395.30 319.50L397.30 319.50L399.30 319.50L401.30 319.50L403.30 319.50L405.30 319.50L407.30 319.50L409.30 319.50L411.30 319.50L413.30 319.50L415.30 319.50L417.30 319.50L419.30 319.50L421.30 319.50L423.30 319.50L425.30 319.50L427.30 319.50L429.30 319.50L431.30 319.50L433.30 319.50L435.30 319.50L437.30 319.50L439.30 319.50L441.30 319.50L443.30 319.50L445.30 319.50L447.30 319.50L449.30 319.50L451.30 319.50L453.30 319.50L455.30 319.50L457.30 319.50L459.30 319.50L461.30 319.50L463.30 319.50L465.30 319.50L467.30 319.50L469.30 319.50L471.30 319.50L473.30 319.50L475.30 319.50L477.30 319.50L479.30 319.50L481.30 319.50L483.30 319.50L485.30 319.50L487.30 319.50L489.30 319.50L491.30 319.50L493.30 319.50L495.30 319.50L497.30 319.50L499.30 319.50L501.30 319.50L503.30 319.50L505.30 319.50L507.30 319.50L509.30 319.50L511.30 319.50L513.30 319.50L515.30 319.50L517.30 319.50L519.30 319.50L521.30 319.50L523.30 319.50L525.30 319.50L527.30 319.50L529.30 319.50L531.30 319.50L533.30 319.50L535.30 319.50L537.30 319.50L539.30 319.50L541.30 319.50L543.30 319.50L545.30 319.50L547.30 319.50L549.30 319.50L551.30 319.50L553.30 319.50L555.30 319.50L557.30 319.50L559.30 319.50L561.30 319.50L563.30 319.50L565.30 319.50L567.30 319.50L569.30 319.50L571.30 319.50L573.30 319.50L575.30 319.50L577.30 319.50L579.30 319.50L581.30 319.50L583.30 319.50L585.30 319.50L587.30 319.50L589.30 319.50L591.30 319.50L593.30 319.50L595.30 319.50L597.30 319.50L599.30 319.50L601.30 319.50L603.30 319.50L605.30 319.50L607.30 319.50L609.30 319.50L611.30 319.50L613.30 319.50L615.30 319.50L617.30 319.50L619.30 319.50L621.30 319.50L623.30 319.50L625.30 319.50L627.30 319.50L629.30 319.50L631.30 319.50L633.30 319.50L635.30 319.50L637.30 319.50L639.30 319.50L641.30 319.50L643.30 319.50L645.30 319.50L647.30 319.50L649.30 319.50L651.30 319.50L653.30 319.50L655.30 319.50L657.30 319.50L659.30 319.50L661.30 319.50L663.30 319.50L665.30 319.50L667.30 319.50L669.30 319.50L671.30 319.50L673.30 319.50L675.30 319.50L676.30 319.50" fill="none" stroke="#ff8812" stroke-width="1.50" stroke-linejoin="round" stroke-linecap="butt"/>
<path d="M3.30 398.10 C9.08 398.08 31.72 398.05 38.00 398.00 C44.28 397.95 40.35 398.47 41.00 397.80 C41.65 397.13 41.65 396.30 41.90 394.00 C42.15 391.70 42.30 388.33 42.50 384.00 C42.70 379.67 42.88 374.00 43.10 368.00 C43.32 362.00 43.55 353.83 43.80 348.00 C44.05 342.17 44.35 336.58 44.60 333.00 C44.85 329.42 45.08 327.82 45.30 326.50 C45.52 325.18 45.68 325.05 45.90 325.10 C46.12 325.15 46.33 325.40 46.60 326.80 C46.87 328.20 47.17 330.63 47.50 333.50 C47.83 336.37 48.27 341.00 48.60 344.00 C48.93 347.00 49.27 350.03 49.50 351.50 C49.73 352.97 49.82 353.47 50.00 352.80 C50.18 352.13 50.40 349.30 50.60 347.50 C50.80 345.70 51.02 343.00 51.20 342.00 C51.38 341.00 51.53 340.92 51.70 341.50 C51.87 342.08 52.02 343.55 52.20 345.50 C52.38 347.45 52.63 351.58 52.80 353.20 C52.97 354.82 53.05 355.52 53.20 355.20 C53.35 354.88 53.48 353.25 53.70 351.30 C53.92 349.35 54.23 345.42 54.50 343.50 C54.77 341.58 55.05 340.50 55.30 339.80 C55.55 339.10 55.77 339.02 56.00 339.30 C56.23 339.58 56.47 340.05 56.70 341.50 C56.93 342.95 57.20 345.42 57.40 348.00 C57.60 350.58 57.72 354.00 57.90 357.00 C58.08 360.00 58.27 363.25 58.50 366.00 C58.73 368.75 58.98 371.38 59.30 373.50 C59.62 375.62 59.98 377.15 60.40 378.70 C60.82 380.25 61.25 381.53 61.80 382.80 C62.35 384.07 63.03 385.32 63.70 386.30 C64.37 387.28 64.92 387.98 65.80 388.70 C66.68 389.42 67.88 390.18 69.00 390.60 C70.12 391.02 71.00 391.13 72.50 391.20 C74.00 391.27 75.67 391.15 78.00 391.00 C80.33 390.85 83.67 390.43 86.50 390.30 C89.33 390.17 92.50 390.45 95.00 390.20 C97.50 389.95 99.45 389.27 101.50 388.80 C103.55 388.33 105.40 387.33 107.30 387.40 C109.20 387.47 111.05 388.50 112.90 389.20 C114.75 389.90 116.38 390.87 118.40 391.60 C120.42 392.33 122.73 393.00 125.00 393.60 C127.27 394.20 129.67 394.75 132.00 395.20 C134.33 395.65 136.33 396.00 139.00 396.30 C141.67 396.60 145.07 396.80 148.00 397.00 C150.93 397.20 152.10 397.38 156.60 397.50 C161.10 397.62 167.77 397.67 175.00 397.70 C182.23 397.73 195.83 397.70 200.00 397.70L200.50 397.70L202.50 397.70L204.50 397.70L206.50 397.69L208.50 397.69L210.50 397.69L212.50 397.69L214.50 397.69L216.50 397.69L218.50 397.69L220.50 397.68L220.90 397.68L221.40 397.68L221.90 397.68L222.40 397.68L222.50 397.68L222.90 397.68L223.40 397.68L223.90 397.68L224.40 397.68L224.50 397.68L224.90 397.68L225.40 397.68L225.90 397.68L226.40 397.68L226.50 397.68L226.90 397.68L227.40 397.68L227.90 397.68L228.00 397.68L228.40 397.68L228.50 397.68L228.90 397.68L229.00 397.68L229.40 397.68L229.50 397.68L229.90 397.68L230.00 397.68L230.40 397.68L230.50 397.68L230.90 397.68L231.00 397.68L231.40 397.68L231.50 397.68L231.90 397.68L232.00 397.68L232.40 397.68L232.50 397.67L232.90 397.67L233.00 397.67L233.40 397.67L233.50 397.67L233.90 397.67L234.00 397.67L234.40 397.67L234.50 397.67L234.90 397.67L235.00 397.67L235.40 397.67L235.50 397.67L235.90 397.67L236.00 397.67L236.40 397.67L236.50 397.67L236.90 397.67L237.00 397.67L237.40 397.67L237.50 397.67L237.90 397.67L238.00 397.67L238.40 397.67L238.50 397.67L238.90 397.67L239.00 397.67L239.40 397.67L239.50 397.67L239.90 397.67L240.00 397.67L240.40 397.67L240.50 397.67L240.90 397.67L241.00 397.67L241.40 397.67L241.50 397.67L241.90 397.66L242.00 397.66L242.40 397.66L242.50 397.66L242.90 397.66L243.00 397.66L243.40 397.66L243.50 397.66L243.90 397.65L244.00 397.65L244.40 397.65L244.50 397.65L244.90 397.65L245.00 397.64L245.40 397.64L245.50 397.64L245.80 397.63L245.90 397.63L246.00 397.63L246.30 397.63L246.40 397.62L246.50 397.62L246.80 397.61L246.90 397.61L247.00 397.61L247.30 397.59L247.40 397.59L247.50 397.58L247.80 397.56L247.90 397.55L248.00 397.54L248.30 397.49L248.40 397.48L248.50 397.46L248.80 397.38L248.90 397.35L249.00 397.32L249.30 397.20L249.40 397.16L249.50 397.12L249.80 396.98L249.90 396.93L250.00 396.89L250.30 396.77L250.40 396.74L250.50 396.71L250.80 396.65L250.90 396.64L251.00 396.64L251.30 396.66L251.40 396.68L251.50 396.70L251.80 396.78L251.90 396.81L252.00 396.84L252.30 396.94L252.40 396.97L252.50 397.00L252.80 397.08L252.90 397.10L253.00 397.12L253.30 397.17L253.40 397.17L253.50 397.18L253.80 397.19L253.90 397.19L254.00 397.19L254.30 397.19L254.40 397.18L254.50 397.18L254.80 397.16L254.90 397.16L255.00 397.15L255.30 397.14L255.40 397.13L255.50 397.13L255.80 397.11L255.90 397.11L256.00 397.10L256.30 397.09L256.40 397.09L256.50 397.08L256.80 397.07L256.90 397.07L257.00 397.07L257.30 397.06L257.40 397.06L257.50 397.06L257.80 397.06L257.90 397.06L258.00 397.06L258.30 397.06L258.40 397.06L258.50 397.06L258.80 397.06L258.90 397.06L259.00 397.07L259.30 397.07L259.40 397.08L259.50 397.08L259.80 397.09L259.90 397.10L260.00 397.10L260.30 397.11L260.40 397.12L260.50 397.12L260.80 397.14L260.90 397.15L261.00 397.15L261.30 397.17L261.40 397.18L261.50 397.18L261.80 397.20L261.90 397.20L262.00 397.21L262.30 397.22L262.40 397.22L262.50 397.22L262.80 397.21L262.90 397.20L263.00 397.19L263.30 397.12L263.40 397.08L263.50 397.03L263.80 396.81L263.90 396.71L264.00 396.58L264.30 396.04L264.40 395.79L264.50 395.50L264.80 394.35L264.90 393.86L265.00 393.30L265.30 391.19L265.40 390.33L265.50 389.38L265.80 385.98L265.90 384.66L266.00 383.25L266.30 378.51L266.40 376.78L266.50 374.98L266.80 369.33L266.90 367.41L267.00 365.49L267.30 359.93L267.40 358.21L267.50 356.59L267.80 352.46L267.90 351.40L268.00 350.50L268.30 348.98L268.40 348.88L268.50 348.95L268.80 349.95L268.90 350.55L269.00 351.26L269.30 354.07L269.40 355.20L269.50 356.42L269.80 360.48L269.90 361.95L270.00 363.45L270.30 368.07L270.40 369.62L270.50 371.17L270.80 375.68L270.90 377.12L271.00 378.51L271.30 382.41L271.40 383.60L271.50 384.73L271.80 387.76L271.90 388.65L272.00 389.47L272.30 391.60L272.40 392.20L272.50 392.74L272.80 394.07L272.90 394.42L273.00 394.73L273.30 395.41L273.40 395.57L273.50 395.70L273.80 395.91L273.90 395.94L274.00 395.94L274.30 395.84L274.40 395.77L274.50 395.70L274.80 395.45L274.90 395.36L275.00 395.28L275.30 395.04L275.40 394.98L275.50 394.93L275.80 394.84L275.90 394.84L276.00 394.85L276.30 394.95L276.40 395.01L276.50 395.07L276.80 395.32L276.90 395.41L277.00 395.51L277.30 395.79L277.40 395.89L277.50 395.98L277.80 396.22L277.90 396.29L278.00 396.36L278.30 396.52L278.40 396.57L278.50 396.61L278.80 396.69L278.90 396.72L279.00 396.73L279.30 396.78L279.40 396.79L279.50 396.80L279.80 396.82L279.90 396.83L280.00 396.84L280.30 396.86L280.40 396.87L280.50 396.88L280.80 396.91L280.90 396.92L281.00 396.93L281.30 396.97L281.40 396.98L281.50 397.00L281.80 397.04L281.90 397.06L282.00 397.07L282.30 397.12L282.40 397.14L282.50 397.15L282.80 397.20L282.90 397.22L283.00 397.23L283.30 397.28L283.40 397.29L283.50 397.31L283.80 397.35L283.90 397.36L284.00 397.38L284.30 397.41L284.40 397.42L284.50 397.44L284.80 397.47L284.90 397.48L285.00 397.49L285.30 397.51L285.40 397.52L285.50 397.53L285.80 397.55L285.90 397.55L286.00 397.56L286.30 397.57L286.40 397.58L286.50 397.58L286.80 397.59L286.90 397.59L287.00 397.60L287.30 397.61L287.40 397.61L287.50 397.61L287.80 397.62L287.90 397.62L288.00 397.62L288.30 397.62L288.40 397.62L288.50 397.62L288.80 397.63L288.90 397.63L289.00 397.63L289.30 397.63L289.40 397.63L289.50 397.63L289.80 397.63L289.90 397.63L290.00 397.63L290.30 397.63L290.40 397.63L290.50 397.63L290.80 397.63L290.90 397.63L291.00 397.63L291.30 397.63L291.40 397.63L291.50 397.63L291.80 397.63L291.90 397.63L292.00 397.63L292.30 397.63L292.40 397.63L292.50 397.63L292.80 397.63L292.90 397.63L293.00 397.63L293.30 397.63L293.40 397.63L293.50 397.63L293.80 397.63L293.90 397.63L294.00 397.63L294.30 397.63L294.40 397.63L294.50 397.63L294.80 397.63L294.90 397.63L295.00 397.63L295.30 397.63L295.40 397.63L295.50 397.63L295.80 397.63L295.90 397.63L296.00 397.63L296.30 397.63L296.40 397.63L296.50 397.63L296.80 397.63L296.90 397.63L297.00 397.63L297.30 397.63L297.40 397.63L297.50 397.62L297.80 397.62L297.90 397.62L298.00 397.62L298.30 397.62L298.40 397.62L298.50 397.62L298.80 397.62L298.90 397.62L299.00 397.62L299.30 397.62L299.40 397.62L299.50 397.62L299.80 397.62L299.90 397.62L300.00 397.62L300.30 397.62L300.40 397.62L300.50 397.62L300.80 397.62L300.90 397.62L301.00 397.62L301.30 397.62L301.40 397.62L301.50 397.62L301.80 397.62L301.90 397.62L302.00 397.62L302.30 397.62L302.40 397.62L302.50 397.62L302.80 397.62L302.90 397.62L303.00 397.62L303.30 397.62L303.40 397.62L303.50 397.62L303.80 397.62L303.90 397.62L304.00 397.62L304.30 397.62L304.40 397.62L304.50 397.62L304.80 397.62L304.90 397.62L305.00 397.62L305.30 397.62L305.40 397.62L305.50 397.62L305.80 397.62L305.90 397.62L306.00 397.62L306.30 397.62L306.40 397.62L306.50 397.62L306.80 397.62L306.90 397.62L307.00 397.62L307.30 397.62L307.40 397.62L307.50 397.62L307.80 397.62L307.90 397.62L308.00 397.62L308.30 397.62L308.40 397.62L308.50 397.62L308.80 397.62L309.00 397.62L309.30 397.62L309.50 397.62L309.80 397.62L310.00 397.62L310.30 397.62L310.50 397.62L310.80 397.61L311.00 397.61L311.30 397.61L311.50 397.61L311.80 397.61L312.00 397.61L312.30 397.61L312.50 397.61L312.80 397.61L313.00 397.61L313.30 397.61L313.50 397.61L313.80 397.61L314.00 397.61L314.30 397.61L314.50 397.61L314.80 397.61L315.00 397.61L315.30 397.61L315.50 397.61L315.80 397.61L316.00 397.61L316.50 397.61L317.00 397.61L317.50 397.61L318.00 397.61L318.50 397.61L319.00 397.61L319.50 397.61L320.50 397.61L322.50 397.61L324.50 397.60L326.50 397.60L328.50 397.60L330.50 397.60L332.50 397.60L334.50 397.59L336.50 397.59L338.50 397.59L340.50 397.58L342.50 397.58L344.50 397.57L346.50 397.57L348.50 397.57L350.50 397.56L352.50 397.56L354.50 397.56L356.50 397.55L358.50 397.55L360.50 397.55L362.50 397.54L364.50 397.54L366.50 397.54L368.50 397.53L370.50 397.53L372.50 397.53L374.50 397.52L376.50 397.52L378.50 397.52L380.50 397.51L382.50 397.51L384.50 397.51L386.50 397.50L388.50 397.50L390.50 397.49L392.50 397.49L394.50 397.49L396.50 397.48L398.50 397.48L400.50 397.48L402.50 397.47L404.50 397.47L406.50 397.47L408.50 397.46L410.50 397.46L412.50 397.46L414.50 397.45L416.50 397.45L418.50 397.45L420.50 397.44L422.50 397.44L424.50 397.44L426.50 397.43L428.50 397.43L430.50 397.43L432.50 397.42L434.50 397.42L436.50 397.41L438.50 397.41L440.50 397.41L442.50 397.40L444.50 397.40L446.50 397.39L448.50 397.39L450.50 397.38L452.50 397.37L454.50 397.36L456.50 397.36L458.50 397.35L460.50 397.34L462.50 397.33L464.50 397.33L466.50 397.32L468.50 397.31L470.50 397.30L472.50 397.30L474.50 397.29L476.50 397.28L478.50 397.27L480.50 397.27L482.50 397.26L484.50 397.25L486.50 397.24L488.50 397.24L490.50 397.23L492.50 397.22L494.50 397.21L496.50 397.21L498.50 397.20L500.50 397.19L502.50 397.18L504.50 397.18L506.50 397.17L508.50 397.16L510.50 397.15L512.50 397.15L514.50 397.14L516.50 397.13L518.50 397.12L520.50 397.12L522.50 397.11L524.50 397.10L526.50 397.09L528.50 397.09L530.50 397.08L532.50 397.07L534.50 397.06L536.50 397.06L538.50 397.05L540.50 397.04L542.50 397.03L544.50 397.03L546.50 397.02L548.50 397.01L550.50 397.00L552.50 397.00L554.50 396.99L556.50 396.98L558.50 396.97L560.50 396.97L562.50 396.96L564.50 396.95L566.50 396.94L568.50 396.94L570.50 396.93L572.50 396.92L574.50 396.91L576.50 396.91L578.50 396.90L580.50 396.89L582.50 396.88L584.50 396.88L586.50 396.87L588.50 396.86L590.50 396.85L592.50 396.85L594.50 396.84L596.50 396.83L598.50 396.82L600.50 396.82L602.50 396.81L604.50 396.80L606.50 396.79L608.50 396.79L610.50 396.78L612.50 396.77L614.50 396.77L616.50 396.76L618.50 396.75L620.50 396.74L622.50 396.74L624.50 396.73L626.50 396.72L628.50 396.71L630.50 396.71L632.50 396.70L634.50 396.69L636.50 396.69L638.50 396.68L640.50 396.67L642.50 396.66L644.50 396.66L646.50 396.65L648.50 396.64L650.50 396.63L652.50 396.63L654.50 396.62L656.50 396.61L658.50 396.61L660.50 396.59L662.50 396.54L664.50 396.49L666.50 396.44L668.50 396.39L670.50 396.35L672.50 396.30L674.50 396.25L676.30 396.20" fill="none" stroke="#9a6a28" stroke-width="1.50" stroke-linejoin="round" stroke-linecap="butt"/>
<path d="M3.30 468.90 C10.08 468.90 36.58 468.85 44.00 468.90 C51.42 468.95 47.02 469.32 47.80 469.20 C48.58 469.08 48.47 469.07 48.70 468.20 C48.93 467.33 49.03 466.20 49.20 464.00 C49.37 461.80 49.55 458.67 49.70 455.00 C49.85 451.33 49.97 446.50 50.10 442.00 C50.23 437.50 50.37 432.00 50.50 428.00 C50.63 424.00 50.73 420.47 50.90 418.00 C51.07 415.53 51.25 414.22 51.50 413.20 C51.75 412.18 52.10 412.22 52.40 411.90 C52.70 411.58 52.97 411.50 53.30 411.30 C53.63 411.10 54.10 410.50 54.40 410.70 C54.70 410.90 54.90 411.12 55.10 412.50 C55.30 413.88 55.42 416.08 55.60 419.00 C55.78 421.92 56.00 426.33 56.20 430.00 C56.40 433.67 56.58 437.83 56.80 441.00 C57.02 444.17 57.22 446.75 57.50 449.00 C57.78 451.25 58.15 453.03 58.50 454.50 C58.85 455.97 59.20 456.75 59.60 457.80 C60.00 458.85 60.45 459.93 60.90 460.80 C61.35 461.67 61.75 462.32 62.30 463.00 C62.85 463.68 63.50 464.38 64.20 464.90 C64.90 465.42 65.23 465.75 66.50 466.10 C67.77 466.45 69.55 466.80 71.80 467.00 C74.05 467.20 77.30 467.30 80.00 467.30 C82.70 467.30 85.17 467.08 88.00 467.00 C90.83 466.92 94.33 466.67 97.00 466.80 C99.67 466.93 101.50 467.52 104.00 467.80 C106.50 468.08 108.50 468.35 112.00 468.50 C115.50 468.65 120.33 468.67 125.00 468.70 C129.67 468.73 137.50 468.70 140.00 468.70L140.50 468.70L142.50 468.70L144.50 468.70L146.50 468.70L148.50 468.70L150.50 468.69L152.50 468.69L154.50 468.69L156.50 468.69L158.50 468.69L160.50 468.69L162.50 468.69L164.50 468.69L166.50 468.69L168.50 468.69L170.50 468.68L172.50 468.68L174.50 468.68L176.50 468.68L178.50 468.68L180.50 468.68L182.50 468.68L184.50 468.68L186.50 468.68L188.50 468.67L190.50 468.67L192.50 468.67L194.50 468.67L196.50 468.67L198.50 468.67L200.50 468.67L202.50 468.67L204.50 468.67L206.50 468.67L208.50 468.66L210.50 468.66L212.50 468.66L214.50 468.66L216.50 468.66L218.50 468.66L220.50 468.66L222.50 468.66L224.50 468.66L225.40 468.66L225.90 468.65L226.40 468.65L226.50 468.65L226.90 468.65L227.40 468.65L227.90 468.65L228.40 468.65L228.50 468.65L228.90 468.65L229.40 468.65L229.90 468.65L230.40 468.65L230.50 468.65L230.90 468.65L231.40 468.65L231.90 468.65L232.40 468.65L232.50 468.65L232.90 468.65L233.40 468.65L233.90 468.65L234.40 468.65L234.50 468.65L234.90 468.65L235.40 468.65L235.90 468.65L236.40 468.65L236.50 468.65L236.90 468.65L237.40 468.65L237.90 468.65L238.00 468.65L238.40 468.64L238.50 468.64L238.90 468.64L239.00 468.64L239.40 468.64L239.50 468.64L239.90 468.64L240.00 468.64L240.40 468.63L240.50 468.63L240.90 468.62L241.00 468.62L241.40 468.61L241.50 468.61L241.90 468.60L242.00 468.60L242.40 468.58L242.50 468.58L242.90 468.56L243.00 468.55L243.40 468.53L243.50 468.52L243.90 468.49L244.00 468.48L244.40 468.43L244.50 468.42L244.90 468.37L245.00 468.35L245.40 468.29L245.50 468.27L245.90 468.19L246.00 468.17L246.40 468.08L246.50 468.05L246.90 467.94L247.00 467.91L247.40 467.78L247.50 467.75L247.90 467.60L248.00 467.56L248.40 467.39L248.50 467.34L248.90 467.15L249.00 467.10L249.40 466.86L249.50 466.80L249.90 466.49L250.00 466.40L250.40 465.94L250.50 465.80L250.90 465.03L251.00 464.78L251.40 463.44L251.50 463.01L251.90 460.74L252.00 460.02L252.40 456.42L252.50 455.33L252.90 450.18L253.00 448.70L253.40 442.13L253.50 440.37L253.90 433.11L254.00 431.31L254.40 424.61L254.50 423.14L254.90 418.48L255.00 417.69L255.40 416.24L255.50 416.32L255.90 418.32L256.00 419.20L256.40 424.01L256.50 425.46L256.90 431.90L257.00 433.59L257.40 440.30L257.50 441.91L257.90 447.81L258.00 449.13L258.40 453.68L258.50 454.63L258.90 457.78L259.00 458.41L259.40 460.41L259.50 460.80L259.90 462.03L260.00 462.27L260.40 463.03L260.50 463.19L260.90 463.72L261.00 463.83L261.40 464.25L261.50 464.35L261.90 464.71L262.00 464.80L262.40 465.13L262.50 465.22L262.90 465.53L263.00 465.61L263.40 465.91L263.50 465.98L263.90 466.25L264.00 466.32L264.40 466.57L264.50 466.63L264.90 466.86L265.00 466.91L265.40 467.09L265.50 467.13L265.90 467.25L266.00 467.27L266.40 467.29L266.50 467.28L266.90 467.20L267.00 467.18L267.40 467.07L267.50 467.05L267.90 467.04L268.00 467.06L268.40 467.23L268.50 467.29L268.90 467.58L269.00 467.66L269.40 467.95L269.50 468.01L269.90 468.22L270.00 468.26L270.40 468.38L270.50 468.41L270.90 468.47L271.00 468.48L271.40 468.51L271.50 468.52L271.90 468.54L272.00 468.55L272.40 468.56L272.50 468.57L272.90 468.58L273.00 468.58L273.40 468.59L273.50 468.59L273.90 468.60L274.00 468.60L274.40 468.61L274.50 468.61L274.90 468.61L275.00 468.62L275.40 468.62L275.50 468.62L275.90 468.62L276.00 468.62L276.40 468.62L276.50 468.62L276.90 468.62L277.00 468.62L277.40 468.63L277.50 468.63L277.90 468.63L278.00 468.63L278.40 468.63L278.50 468.63L278.90 468.63L279.00 468.63L279.40 468.63L279.50 468.63L279.90 468.63L280.00 468.63L280.40 468.63L280.50 468.63L280.90 468.63L281.00 468.63L281.40 468.63L281.50 468.63L281.90 468.63L282.00 468.63L282.40 468.63L282.50 468.62L282.90 468.62L283.00 468.62L283.40 468.62L283.50 468.62L283.90 468.62L284.00 468.62L284.40 468.62L284.50 468.62L284.90 468.62L285.00 468.62L285.40 468.62L285.50 468.62L285.90 468.62L286.00 468.62L286.40 468.62L286.50 468.62L286.90 468.62L287.00 468.62L287.40 468.62L287.50 468.62L287.90 468.62L288.00 468.62L288.40 468.62L288.50 468.62L288.90 468.62L289.00 468.62L289.40 468.62L289.50 468.62L289.90 468.62L290.00 468.62L290.40 468.62L290.50 468.62L290.90 468.62L291.00 468.62L291.40 468.62L291.50 468.62L291.90 468.62L292.00 468.62L292.40 468.62L292.50 468.62L292.90 468.62L293.00 468.62L293.40 468.62L293.50 468.62L293.90 468.62L294.00 468.62L294.40 468.62L294.50 468.62L294.90 468.62L295.00 468.62L295.40 468.62L295.50 468.62L296.00 468.62L296.50 468.62L297.00 468.62L297.50 468.62L298.00 468.62L298.50 468.62L299.00 468.62L299.50 468.62L300.00 468.62L300.50 468.62L301.00 468.62L301.50 468.62L302.00 468.61L302.50 468.61L303.00 468.61L303.50 468.61L304.00 468.61L304.50 468.61L305.00 468.61L305.50 468.61L306.00 468.61L306.50 468.61L307.00 468.61L307.50 468.61L308.00 468.61L308.50 468.61L310.50 468.61L312.50 468.61L314.50 468.61L316.50 468.61L318.50 468.61L320.50 468.61L322.50 468.60L324.50 468.60L326.50 468.60L328.50 468.60L330.50 468.60L332.50 468.60L334.50 468.59L336.50 468.59L338.50 468.59L340.50 468.59L342.50 468.58L344.50 468.58L346.50 468.58L348.50 468.58L350.50 468.57L352.50 468.57L354.50 468.57L356.50 468.57L358.50 468.56L360.50 468.56L362.50 468.56L364.50 468.56L366.50 468.55L368.50 468.55L370.50 468.55L372.50 468.54L374.50 468.54L376.50 468.54L378.50 468.54L380.50 468.53L382.50 468.53L384.50 468.53L386.50 468.53L388.50 468.52L390.50 468.52L392.50 468.52L394.50 468.52L396.50 468.51L398.50 468.51L400.50 468.51L402.50 468.51L404.50 468.50L406.50 468.50L408.50 468.50L410.50 468.50L412.50 468.49L414.50 468.49L416.50 468.49L418.50 468.48L420.50 468.48L422.50 468.48L424.50 468.48L426.50 468.47L428.50 468.47L430.50 468.47L432.50 468.47L434.50 468.46L436.50 468.46L438.50 468.46L440.50 468.46L442.50 468.45L444.50 468.45L446.50 468.44L448.50 468.43L450.50 468.42L452.50 468.41L454.50 468.39L456.50 468.38L458.50 468.37L460.50 468.36L462.50 468.35L464.50 468.33L466.50 468.32L468.50 468.31L470.50 468.30L472.50 468.29L474.50 468.27L476.50 468.26L478.50 468.25L480.50 468.24L482.50 468.23L484.50 468.22L486.50 468.20L488.50 468.19L490.50 468.18L492.50 468.17L494.50 468.16L496.50 468.14L498.50 468.13L500.50 468.12L502.50 468.11L504.50 468.10L506.50 468.08L508.50 468.07L510.50 468.06L512.50 468.05L514.50 468.04L516.50 468.03L518.50 468.01L520.50 468.00L522.50 467.99L524.50 467.98L526.50 467.97L528.50 467.95L530.50 467.94L532.50 467.93L534.50 467.92L536.50 467.91L538.50 467.89L540.50 467.88L542.50 467.87L544.50 467.86L546.50 467.85L548.50 467.84L550.50 467.82L552.50 467.81L554.50 467.80L556.50 467.79L558.50 467.78L560.50 467.76L562.50 467.75L564.50 467.74L566.50 467.73L568.50 467.72L570.50 467.70L572.50 467.69L574.50 467.68L576.50 467.67L578.50 467.66L580.50 467.65L582.50 467.63L584.50 467.62L586.50 467.61L588.50 467.60L590.50 467.59L592.50 467.57L594.50 467.56L596.50 467.55L598.50 467.54L600.50 467.53L602.50 467.51L604.50 467.50L606.50 467.49L608.50 467.47L610.50 467.46L612.50 467.45L614.50 467.43L616.50 467.42L618.50 467.40L620.50 467.39L622.50 467.37L624.50 467.36L626.50 467.34L628.50 467.33L630.50 467.31L632.50 467.30L634.50 467.29L636.50 467.27L638.50 467.26L640.50 467.24L642.50 467.23L644.50 467.21L646.50 467.20L648.50 467.18L650.50 467.17L652.50 467.15L654.50 467.14L656.50 467.13L658.50 467.11L660.50 467.08L662.50 467.02L664.50 466.96L666.50 466.90L668.50 466.84L670.50 466.78L672.50 466.72L674.50 466.66L676.30 466.61" fill="none" stroke="#141414" stroke-width="1.50" stroke-linejoin="round" stroke-linecap="butt"/>
<rect x="1.8" y="487.9" width="677" height="3.3" fill="#000"/>
<rect x="1.80" y="488.3" width="3.4" height="11.8" fill="#000"/>
<rect x="35.48" y="488.3" width="3.4" height="7.5" fill="#000"/>
<rect x="69.16" y="488.3" width="3.4" height="7.5" fill="#000"/>
<rect x="102.84" y="488.3" width="3.4" height="7.5" fill="#000"/>
<rect x="136.52" y="488.3" width="3.4" height="7.5" fill="#000"/>
<rect x="170.20" y="488.3" width="3.4" height="11.8" fill="#000"/>
<rect x="203.88" y="488.3" width="3.4" height="7.5" fill="#000"/>
<rect x="237.56" y="488.3" width="3.4" height="7.5" fill="#000"/>
<rect x="271.24" y="488.3" width="3.4" height="7.5" fill="#000"/>
<rect x="304.92" y="488.3" width="3.4" height="7.5" fill="#000"/>
<rect x="338.60" y="488.3" width="3.4" height="11.8" fill="#000"/>
<rect x="372.28" y="488.3" width="3.4" height="7.5" fill="#000"/>
<rect x="405.96" y="488.3" width="3.4" height="7.5" fill="#000"/>
<rect x="439.64" y="488.3" width="3.4" height="7.5" fill="#000"/>
<rect x="473.32" y="488.3" width="3.4" height="7.5" fill="#000"/>
<rect x="507.00" y="488.3" width="3.4" height="11.8" fill="#000"/>
<rect x="540.68" y="488.3" width="3.4" height="7.5" fill="#000"/>
<rect x="574.36" y="488.3" width="3.4" height="7.5" fill="#000"/>
<rect x="608.04" y="488.3" width="3.4" height="7.5" fill="#000"/>
<rect x="641.72" y="488.3" width="3.4" height="7.5" fill="#000"/>
<rect x="675.40" y="488.3" width="3.4" height="11.8" fill="#000"/>
<text x="3.50" y="518" text-anchor="middle" class="s">0</text>
<text x="171.90" y="518" text-anchor="middle" class="s">5</text>
<text x="340.30" y="518" text-anchor="middle" class="s">10</text>
<text x="508.70" y="518" text-anchor="middle" class="s">15</text>
<text x="677.10" y="518" text-anchor="middle" class="s">20</text>
<text x="340.3" y="543.7" text-anchor="middle" class="s" style="font-size:16.2px">Time (Min)</text>
<text x="25.73" y="11.75" class="s p">1.6</text>
<text x="50.51" y="11.75" class="s p m">min</text>
<text x="249.70" y="112.60" class="s p">8.1</text>
<text x="274.81" y="112.60" class="s p m">min</text>
<text x="249.70" y="177.10" class="s p">8.1</text>
<text x="274.81" y="177.10" class="s p m">min</text>
<text x="249.70" y="253.70" class="s p">8.1</text>
<text x="274.81" y="253.70" class="s p m">min</text>
<text x="248.50" y="302.20" class="s p">8.1</text>
<text x="273.61" y="302.20" class="s p m">min</text>
<text x="240.87" y="340.00" class="s p">7.9</text>
<text x="265.61" y="340.00" class="s p m">min</text>
<text x="225.93" y="414.70" class="s p">7.4</text>
<text x="251.16" y="414.70" class="s p m">min</text>
<text x="8.0" y="89.7" class="a">x-ray</text>
<text x="12.0" y="151.8" class="a">x-ray</text>
<text x="12.0" y="211.3" class="a">x-ray</text>
<text x="13.2" y="261.9" class="a">x-ray</text>
<text x="13.3" y="313.3" class="a">x-ray</text>
<text x="85.0" y="153" class="s">RCP = 100%</text>
<text x="84.6" y="214.1" class="s">RCP &gt; 99%</text>
<text x="84.6" y="264.0" class="s">RCP &gt; 99%</text>
<text x="84.9" y="314.7" class="s">RCP &gt; 99%</text>
<text x="8.3" y="393.1" class="s" style="font-size:16px">UV</text>
<text x="8.4" y="464.3" class="s" style="font-size:16px">UV</text>
<rect x="387.4" y="84.25" width="25.5" height="1.9" fill="#0a0af5"/>
<rect x="387.4" y="145.35" width="25.5" height="1.9" fill="#ff2020"/>
<rect x="387.4" y="196.95" width="25.5" height="1.9" fill="#14c014"/>
<rect x="387.4" y="247.05" width="25.5" height="1.9" fill="#b82ee8"/>
<rect x="387.4" y="298.95" width="25.5" height="1.9" fill="#ff8812"/>
<rect x="387.4" y="385.25" width="25.5" height="1.9" fill="#9a6a28"/>
<rect x="387.4" y="457.35" width="25.5" height="1.9" fill="#141414"/>
<text x="427.6" y="91.9" class="s l">[<tspan class="sup" dx="-0.7" dy="-6.7">165</tspan><tspan dy="6.7">Er]Er</tspan><tspan class="sup" dx="-1.2" dy="-6.7">3+</tspan></text>
<text x="427.6" y="153.3" class="s l">[<tspan class="sup" dx="-0.7" dy="-6.7">165</tspan><tspan dy="6.7">Er]Er</tspan><tspan>-PSMA-617 at EOS</tspan></text>
<text x="532.4" y="196.0" class="s l" text-anchor="middle">[<tspan class="sup" dx="-0.7" dy="-6.7">165</tspan><tspan dy="6.7">Er]Er</tspan><tspan>-PSMA-617 12h Past</tspan></text>
<text x="532.4" y="213.8" class="s l" text-anchor="middle">Incubation with Saline</text>
<text x="536.0" y="245.6" class="s l" text-anchor="middle">[<tspan class="sup" dx="-0.7" dy="-6.7">165</tspan><tspan dy="6.7">Er]Er</tspan><tspan>-PSMA-617 12h Past</tspan></text>
<text x="536.0" y="263.7" class="s l" text-anchor="middle">Incubation with Human Serum</text>
<text x="532.6" y="297.7" class="s l" text-anchor="middle">[<tspan class="sup" dx="-0.7" dy="-6.7">165</tspan><tspan dy="6.7">Er]Er</tspan><tspan>-PSMA-617 12h Past</tspan></text>
<text x="532.6" y="315.8" class="s l" text-anchor="middle">Incubation with Mice Serum</text>
<text x="427.6" y="393.4" class="s l">[<tspan class="sup" dx="-0.7" dy="-6.7">nat</tspan><tspan dy="6.7">Er]Er</tspan><tspan>-PSMA-617</tspan></text>
<text x="427.6" y="463.5" class="s l">PSMA-617</text>
</svg>
</body></html>
